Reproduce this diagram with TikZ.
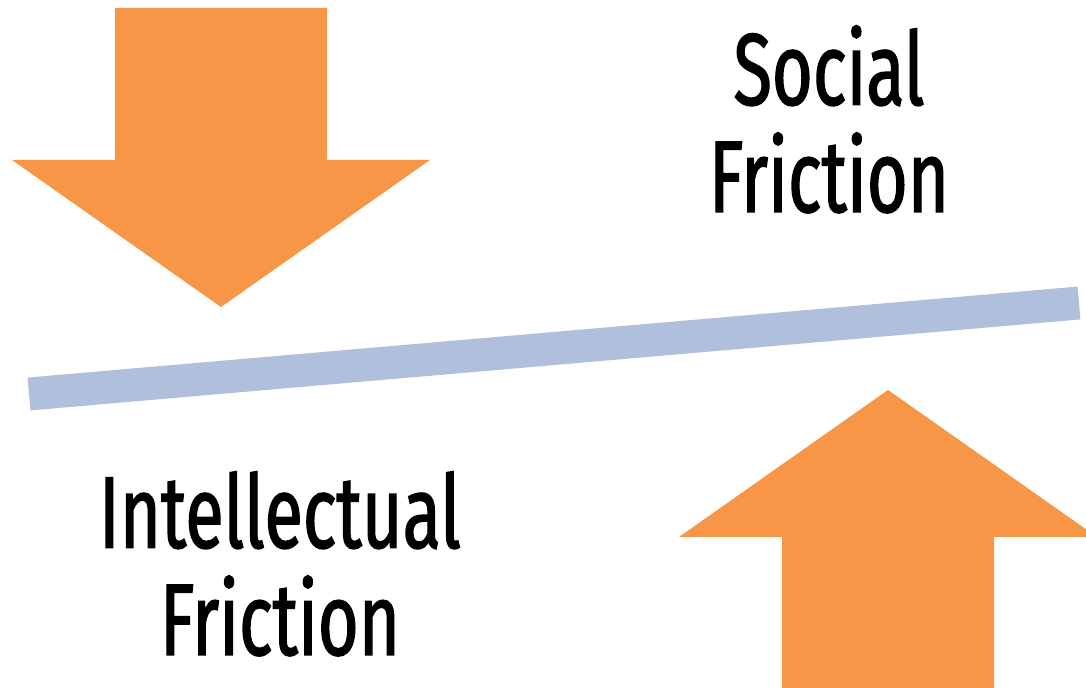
\documentclass[tikz,border=0pt]{standalone}
\usepackage{fontspec}
\setmainfont[FakeStretch=0.69, FakeBold=1.3]{Fira Sans}
\definecolor{pushorange}{HTML}{F79646}
\definecolor{seesaw}{HTML}{B0C0DC}
\tikzset{
  push/.style={fill=pushorange, draw=none},
  label text/.style={align=center, anchor=base, inner sep=0pt,
    font=\fontsize{58}{61}\selectfont}
}
\begin{document}
\begin{tikzpicture}[x=0.02cm, y=-0.02cm]
\useasboundingbox (0,0) rectangle (1086,688);

\fill[push] (115,8) -- (327,8) -- (327,160) -- (430,160) -- (221,307)
  -- (12,160) -- (115,160) -- cycle; % top arrow, pushing down
\fill[push] (782,688) -- (782,537) -- (679,537) -- (888,390) -- (1097,537)
  -- (994,537) -- (994,688) -- cycle; % bottom arrow, pushing up

\draw[seesaw, line width=0.66cm] (29,394) -- (1079,303); % tilted beam

\node[label text] (social) at (829,212) {Social\\Friction}; % upper label
\node[label text] (intellectual) at (280,655) {Intellectual\\Friction}; % lower label

\end{tikzpicture}
\end{document}
